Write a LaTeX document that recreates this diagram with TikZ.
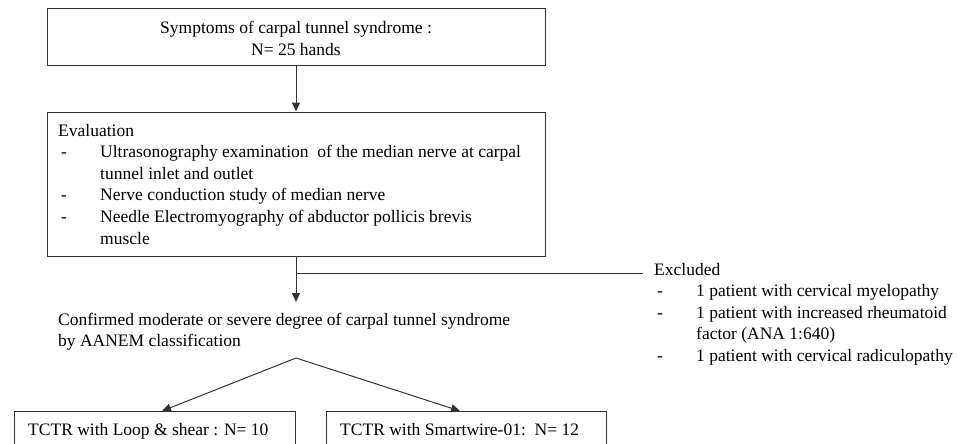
\documentclass[tikz,border=0pt]{standalone}
\usepackage{fontspec}
\setmainfont{Liberation Serif}
\usetikzlibrary{arrows.meta}
\begin{document}
\begin{tikzpicture}[x=1pt,y=-1pt,
  line/.style={draw=black!80,line width=1pt},
  arr/.style={line,-{Triangle[length=9pt,width=8pt]}},
  box/.style={draw=black!80,line width=1pt,inner sep=0pt},
  txt/.style={inner sep=0pt,font=\fontsize{17.5}{21.6}\selectfont},
]
\useasboundingbox (0,0) rectangle (972,444);
\clip (0,0) rectangle (972,444);
% boxes
\node[box,minimum width=498pt,minimum height=57pt] (top) at (296,37.5) {};
\node[txt,anchor=base] (toptxt) at (296,34) {\begin{tabular}[t]{@{}c@{}}Symptoms of carpal tunnel syndrome :\\N= 25 hands\end{tabular}};
\node[box,minimum width=498pt,minimum height=144pt] (eval) at (296,184) {};
\node[txt,anchor=base west] (evaltxt) at (58,136) {\begin{tabular}[t]{@{}p{42pt}@{}l@{}}
\multicolumn{2}{@{}l@{}}{Evaluation}\\
\hspace{3pt}-&Ultrasonography examination\ \ of the median nerve at carpal\\
&tunnel inlet and outlet\\
\hspace{3pt}-&Nerve conduction study of median nerve\\
\hspace{3pt}-&Needle Electromyography of abductor pollicis brevis\\
&muscle
\end{tabular}};
\node[txt,anchor=base west] (conf) at (58,325) {\begin{tabular}[t]{@{}l@{}}Confirmed moderate or severe degree of carpal tunnel syndrome\\by AANEM classification\end{tabular}};
\node[txt,anchor=base west] (excl) at (654,275) {\begin{tabular}[t]{@{}p{42pt}@{}l@{}}
\multicolumn{2}{@{}l@{}}{Excluded}\\
\hspace{3pt}-&1 patient with cervical myelopathy\\
\hspace{3pt}-&1 patient with increased rheumatoid\\
&factor (ANA 1:640)\\
\hspace{3pt}-&1 patient with cervical radiculopathy
\end{tabular}};
\node[box,minimum width=281pt,minimum height=60pt,anchor=north west] (left) at (14,411) {};
\node[txt,anchor=base west] (lefttxt) at (28,435) {TCTR with Loop \& shear : N= 10};
\node[box,minimum width=280pt,minimum height=60pt,anchor=north west] (right) at (326,411) {};
\node[txt,anchor=base west] (righttxt) at (340,435) {TCTR with Smartwire-01:\ \ N= 12};
% coordinates
\coordinate (a2) at (296,302);
\coordinate (j) at (296,273);
\coordinate (jend) at (643,273);
\coordinate (br) at (296,358);
\coordinate (lt) at (162,411);
\coordinate (rt) at (460,411);
% connectors
\draw[arr] (top.south) -- (eval.north);
\draw[arr] (eval.south) -- (a2);
\draw[line] (j) -- (jend);
\draw[arr] (br) -- (lt);
\draw[arr] (br) -- (rt);
\end{tikzpicture}
\end{document}
